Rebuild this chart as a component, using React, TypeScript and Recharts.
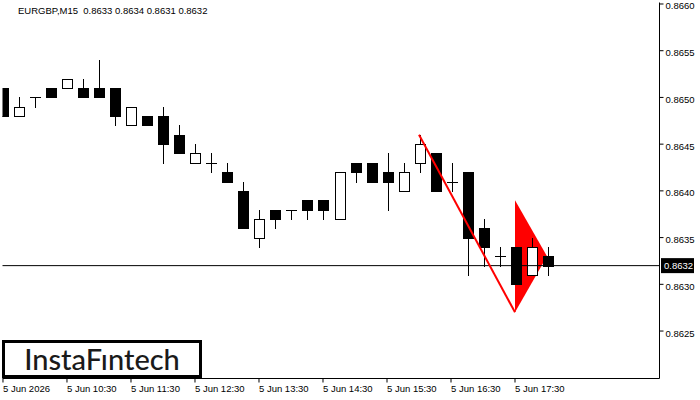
import { ComposedChart, Bar, Line, Area, XAxis, YAxis, ReferenceLine } from "recharts";

// EURGBP M15 candles, 5 Jun 09:30 .. 18:00
const OPEN = [
  0.8651, 0.8648, 0.865, 0.8651, 0.8651, 0.8651, 0.8651, 0.8651, 0.8647, 0.8648,
  0.8648, 0.8646, 0.8643, 0.8643, 0.8642, 0.864, 0.8635, 0.8638, 0.8638, 0.8639,
  0.8639, 0.8637, 0.8643, 0.8643, 0.8642, 0.864, 0.8643, 0.8644, 0.8641, 0.8642,
  0.8636, 0.8633, 0.8634, 0.8631, 0.8633,
];
const HIGH = [
  0.8651, 0.865, 0.865, 0.8651, 0.8652, 0.8652, 0.8654, 0.8651, 0.8649, 0.8648,
  0.8649, 0.8647, 0.8645, 0.8644, 0.8643, 0.8641, 0.8638, 0.8638, 0.8638, 0.8639,
  0.8639, 0.8642, 0.8643, 0.8643, 0.8644, 0.8643, 0.8646, 0.8644, 0.8643, 0.8642,
  0.8637, 0.8634, 0.8634, 0.8635, 0.8634,
];
const LOW = [
  0.8648, 0.8648, 0.8649, 0.865, 0.8651, 0.865, 0.865, 0.8647, 0.8647, 0.8647,
  0.8643, 0.8644, 0.8643, 0.8642, 0.8641, 0.8636, 0.8634, 0.8636, 0.8637, 0.8637,
  0.8637, 0.8637, 0.8641, 0.8641, 0.8638, 0.864, 0.8642, 0.864, 0.864, 0.8631,
  0.8632, 0.8632, 0.863, 0.8631, 0.8631,
];
const CLOSE = [
  0.8648, 0.8649, 0.865, 0.865, 0.8652, 0.865, 0.865, 0.8648, 0.8649, 0.8647,
  0.8645, 0.8644, 0.8644, 0.8643, 0.8641, 0.8636, 0.8637, 0.8637, 0.8638, 0.8638,
  0.8638, 0.8642, 0.8642, 0.8641, 0.8641, 0.8642, 0.8645, 0.864, 0.8641, 0.8635,
  0.8634, 0.8633, 0.863, 0.8634, 0.8632,
];

const TIME_TICKS = [0, 4, 8, 12, 16, 20, 24, 28, 32];
const TIME_LABELS = [
  "5 Jun 2026", "5 Jun 10:30", "5 Jun 11:30", "5 Jun 12:30", "5 Jun 13:30",
  "5 Jun 14:30", "5 Jun 15:30", "5 Jun 16:30", "5 Jun 17:30",
];
const PRICE_TICKS = [0.8625, 0.863, 0.8635, 0.864, 0.8645, 0.865, 0.8655, 0.866];
const LAST_PRICE = 0.8632;

// bearish pennant: pole and flag
const POLE = [
  { i: 26, v: 0.8646 },
  { i: 32, v: 0.8627 },
];
const FLAG = [
  { i: 32, r: [0.8627, 0.8639] },
  { i: 34, r: [0.8633, 0.8633] },
];

const candles = OPEN.map((o, i) => ({
  i,
  o,
  h: HIGH[i],
  l: LOW[i],
  c: CLOSE[i],
  range: [LOW[i], HIGH[i]],
}));

const Candle = (props: any) => {
  const { x, y, width, height, payload } = props;
  if (x == null || y == null) return null;
  const { o, h, l, c } = payload;
  const top = Math.min(y, y + height);
  const bot = Math.max(y, y + height);
  const py = (p: number) => top + ((h - p) / (h - l)) * (bot - top);
  const cx = Math.round(x + width / 2);
  const wx = cx + 0.5;
  const yt = Math.round(py(Math.max(o, c)));
  const yb = Math.round(py(Math.min(o, c)));
  return (
    <g shapeRendering="crispEdges">
      <line x1={wx} x2={wx} y1={Math.round(top)} y2={Math.round(bot) + 1} stroke="#000" />
      {o === c ? (
        <line x1={cx - 5} x2={cx + 6} y1={yt + 0.5} y2={yt + 0.5} stroke="#000" />
      ) : (
        <rect
          x={cx - 5 + 0.5}
          y={yt + 0.5}
          width={10}
          height={yb - yt}
          fill={c > o ? "#fff" : "#000"}
          stroke="#000"
        />
      )}
    </g>
  );
};

const TimeTick = (props: any) => {
  const { x, y, payload } = props;
  const idx = TIME_TICKS.indexOf(payload.value);
  return (
    <text x={x} y={y} dy={7.5} fontSize={9.5} fill="#000" textAnchor="start">
      {TIME_LABELS[idx]}
    </text>
  );
};

const PriceTick = (props: any) => {
  const { x, y, payload } = props;
  return (
    <text x={x} y={y} dy={5.5} fontSize={9.5} fill="#000" textAnchor="start">
      {payload.value.toFixed(4)}
    </text>
  );
};

const PriceTag = (props: any) => {
  const vb = props.viewBox;
  if (!vb) return null;
  const x = vb.x + vb.width + 1.5;
  return (
    <g>
      <rect x={x} y={vb.y - 7.5} width={33} height={15} fill="#000" />
      <text x={x + 3} y={vb.y} dy={3.5} fontSize={9.5} fill="#fff">
        {LAST_PRICE.toFixed(4)}
      </text>
    </g>
  );
};

export default function App() {
  return (
    <div style={{ position: "relative", width: 700, height: 400, fontFamily: "'Liberation Sans', sans-serif", background: "#fff" }}>
      <style>{`body{margin:0}`}</style>
      <ComposedChart
        width={700}
        height={400}
        data={candles}
        margin={{ top: 2.5, left: 2.5, right: 0, bottom: 0 }}
      >
        <XAxis
          dataKey="i"
          type="number"
          domain={[-0.03, 41.03]}
          allowDataOverflow
          ticks={TIME_TICKS}
          tick={<TimeTick />}
          tickSize={4}
          tickLine={{ stroke: "#000" }}
          axisLine={{ stroke: "#000" }}
          height={21.5}
          interval={0}
        />
        <YAxis
          orientation="right"
          type="number"
          domain={[0.861992, 0.866016]}
          allowDataOverflow
          ticks={PRICE_TICKS}
          tick={<PriceTick />}
          tickSize={4}
          tickMargin={2}
          tickLine={{ stroke: "#000" }}
          axisLine={{ stroke: "#000" }}
          width={40.5}
          interval={0}
        />
        {/* frame top and left */}
        <XAxis xAxisId="top" orientation="top" type="number" domain={[0, 1]} height={0} tick={false} tickLine={false} axisLine={{ stroke: "#000" }} />
        <YAxis yAxisId="left" orientation="left" type="number" domain={[0, 1]} width={0} tick={false} tickLine={false} axisLine={{ stroke: "#000" }} />
        <ReferenceLine y={LAST_PRICE} stroke="#000" label={<PriceTag />} />
        <Area
          data={FLAG}
          dataKey="r"
          type="linear"
          fill="#ff0000"
          fillOpacity={1}
          stroke="none"
          isAnimationActive={false}
        />
        <Bar dataKey="range" barSize={11} shape={<Candle />} isAnimationActive={false} />
        <Line
          data={POLE}
          dataKey="v"
          type="linear"
          stroke="#ff0000"
          strokeWidth={2}
          dot={false}
          isAnimationActive={false}
        />
      </ComposedChart>
      <div style={{ position: "absolute", left: 18, top: 5, fontSize: 9.5, color: "#000", whiteSpace: "pre" }}>
        {"EURGBP,M15  0.8633 0.8634 0.8631 0.8632"}
      </div>
      <div
        style={{
          position: "absolute",
          left: 2,
          top: 340,
          width: 194,
          height: 32,
          border: "3px solid #000",
          background: "#fff",
          fontFamily: "Lato, sans-serif",
          fontWeight: 500,
          fontSize: 29,
          lineHeight: "32px",
          color: "#1a1a1a",
          paddingLeft: 0,
          textAlign: "center",
        }}
      >
        InstaFıntech
      </div>
    </div>
  );
}
